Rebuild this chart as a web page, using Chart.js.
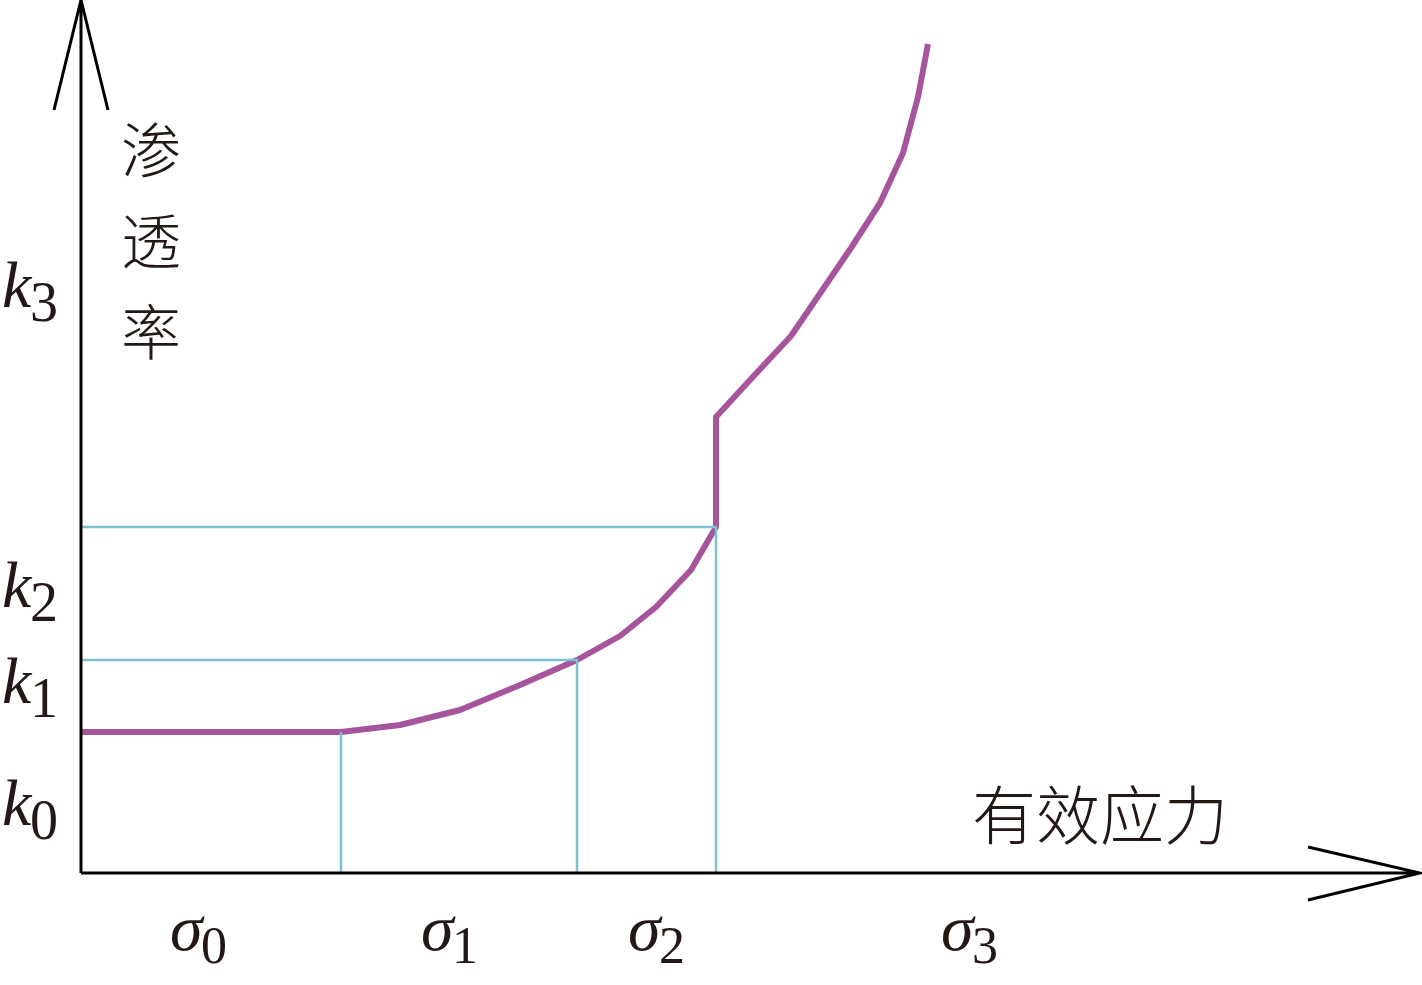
<!DOCTYPE html>
<html lang="zh">
<head>
  <meta charset="UTF-8">
  <title>渗透率 - 有效应力</title>
  <script src="https://cdn.jsdelivr.net/npm/chart.js"></script>
  <style>
    html, body { margin: 0; padding: 0; background: #fff; }
    #box { width: 1422px; height: 985px; position: relative; }
  </style>
</head>
<body>
  <div id="box"><canvas id="permChart"></canvas></div>

  <script>
    // curve: effective stress (x) vs permeability (y), in sketch units
    const curveX = [0, 260, 319, 379, 439, 496, 539, 575, 610, 635, 635, 669, 710, 770, 799, 822, 837, 847];
    const curveY = [141, 141, 148, 163, 188, 213, 237, 266, 303, 346, 456, 493, 537, 625, 670, 720, 776, 829];

    // guide positions (where curve crosses k1, k2 and sigma marks)
    const sigmaMarks = [260, 496, 635];
    const kMarks = [141, 213, 346];

    // axis labels
    const kLabels = ['0', '1', '2', '3'];
    const kLabelY = [48, 170, 266, 566];
    const sigmaLabels = ['0', '1', '2', '3'];
    const sigmaLabelX = [89, 340, 547, 860];

    const xMax = 1339, yMax = 873;
    const purple = '#a6559d';
    const cyan = '#7dc3cf';

    function pts(xs, ys) {
      return xs.map((x, i) => ({ x: x, y: ys[i] }));
    }

    const guides = [
      { data: [{ x: 0, y: kMarks[2] }, { x: sigmaMarks[2], y: kMarks[2] }, { x: sigmaMarks[2], y: 0 }] },
      { data: [{ x: 0, y: kMarks[1] }, { x: sigmaMarks[1], y: kMarks[1] }, { x: sigmaMarks[1], y: 0 }] },
      { data: [{ x: sigmaMarks[0], y: kMarks[0] }, { x: sigmaMarks[0], y: 0 }] }
    ].map(g => ({
      data: g.data,
      showLine: true,
      borderColor: cyan,
      borderWidth: 2.5,
      pointRadius: 0,
      tension: 0,
      clip: false
    }));

    const axesPlugin = {
      id: 'axesPlugin',
      afterDraw(chart) {
        const ctx = chart.ctx;
        const xs = chart.scales.x, ys = chart.scales.y;
        const px = v => xs.getPixelForValue(v);
        const py = v => ys.getPixelForValue(v);
        ctx.save();
        ctx.strokeStyle = '#000';
        ctx.lineWidth = 3;
        ctx.lineCap = 'butt';
        // y axis + arrow
        ctx.beginPath();
        ctx.moveTo(px(0), py(0));
        ctx.lineTo(px(0), py(yMax));
        ctx.moveTo(px(-27), py(yMax - 110));
        ctx.lineTo(px(0), py(yMax));
        ctx.lineTo(px(27), py(yMax - 110));
        // x axis + arrow
        ctx.moveTo(px(0), py(0));
        ctx.lineTo(px(xMax), py(0));
        ctx.moveTo(px(xMax - 112), py(26));
        ctx.lineTo(px(xMax), py(0));
        ctx.lineTo(px(xMax - 112), py(-27));
        ctx.stroke();

        ctx.fillStyle = '#231815';
        ctx.textBaseline = 'alphabetic';
        ctx.textAlign = 'left';
        // k labels
        kLabels.forEach((s, i) => {
          const by = py(kLabelY[i]);
          ctx.font = 'italic 66px "Liberation Serif"';
          ctx.fillText('k', 2, by);
          ctx.font = '56px "Liberation Serif"';
          ctx.fillText(s, 30, by + 14);
        });
        // sigma labels
        sigmaLabels.forEach((s, i) => {
          const bx = px(sigmaLabelX[i]);
          const by = py(0) + 77;
          ctx.font = 'italic 66px "Liberation Serif"';
          ctx.fillText('σ', bx, by);
          ctx.font = '52px "Liberation Serif"';
          ctx.fillText(s, bx + 31, by + 13);
        });
        // axis titles
        ctx.font = '300 60px "Noto Sans CJK SC"';
        ctx.textAlign = 'center';
        ctx.textBaseline = 'middle';
        ['渗', '透', '率'].forEach((c, i) => {
          ctx.fillText(c, 151, 150 + i * 91);
        });
        ctx.font = '300 64px "Noto Sans CJK SC"';
        ctx.fillText('有效应力', 1100, 815);
        ctx.restore();
      }
    };

    new Chart(document.getElementById('permChart'), {
      type: 'scatter',
      data: {
        datasets: guides.concat([{
          data: pts(curveX, curveY),
          showLine: true,
          borderColor: purple,
          borderWidth: 6,
          pointRadius: 0,
          tension: 0,
          borderJoinStyle: 'round',
          clip: false
        }])
      },
      options: {
        responsive: true,
        maintainAspectRatio: false,
        animation: false,
        layout: { padding: { left: 81, right: 2, top: 0, bottom: 112 } },
        plugins: {
          legend: { display: false },
          tooltip: { enabled: false }
        },
        scales: {
          x: { type: 'linear', min: 0, max: xMax, display: false },
          y: { type: 'linear', min: 0, max: yMax, display: false }
        }
      },
      plugins: [axesPlugin]
    });
  </script>
</body>
</html>
